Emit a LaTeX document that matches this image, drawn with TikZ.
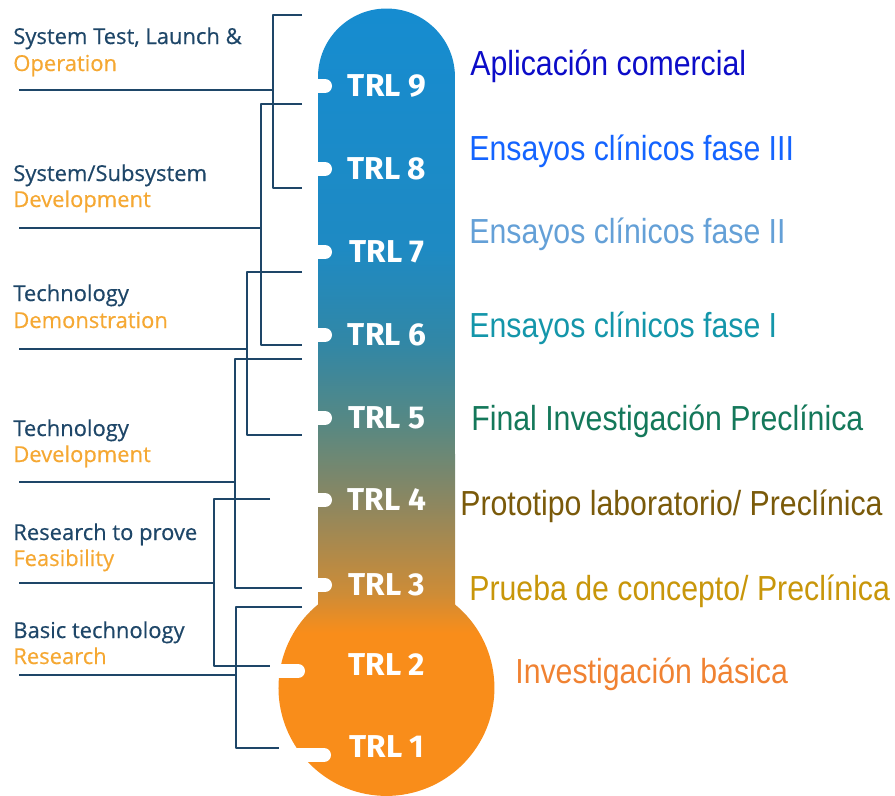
\documentclass[tikz,border=0pt]{standalone}
\usepackage{fontspec}
\setmainfont{Liberation Sans}
\newfontfamily\stagefont[FakeBold=0.5]{Open Sans}
\newfontfamily\trlfont{Fira Sans}
\newfontfamily\narrowfont[FakeStretch=0.87]{Liberation Sans}
\definecolor{navy}{RGB}{30,70,104}
\definecolor{amber}{RGB}{245,168,51}
\definecolor{stemblue}{RGB}{22,140,208}
\definecolor{c7}{RGB}{30,138,195}
\definecolor{c6}{RGB}{50,135,165}
\definecolor{c5}{RGB}{88,136,130}
\definecolor{c4}{RGB}{142,135,95}
\definecolor{c3}{RGB}{205,140,55}
\definecolor{bulb}{RGB}{249,141,26}
\definecolor{trlnine}{RGB}{12,12,200}
\definecolor{trleight}{RGB}{20,100,255}
\definecolor{trlseven}{RGB}{100,160,215}
\definecolor{trlsix}{RGB}{20,150,170}
\definecolor{trlfive}{RGB}{20,120,90}
\definecolor{trlfour}{RGB}{122,90,10}
\definecolor{trlthree}{RGB}{200,150,10}
\definecolor{trltwo}{RGB}{240,130,50}
\pgfdeclareverticalshading{thermo}{100bp}{color(0bp)=(bulb); color(36bp)=(bulb); color(38.5bp)=(c3); color(44bp)=(c4); color(49bp)=(c5); color(54bp)=(c6); color(60bp)=(c7); color(75bp)=(stemblue); color(100bp)=(stemblue)}
\tikzset{
  trl/.style={text=white, inner sep=0pt, font=\trlfont\bfseries\fontsize{18}{20}\selectfont},
  stage/.style={anchor=base west, inner sep=0pt, text=navy, font=\stagefont\fontsize{12.5}{14}\selectfont},
  phase/.style={stage, text=amber},
  trial/.style={anchor=base west, inner sep=0pt, font=\narrowfont\fontsize{19.8}{22}\selectfont},
  bracket/.style={draw=navy, line width=1.1pt},
  notch/.style={white, line width=0.28cm, line cap=round}
}
\begin{document}
\begin{tikzpicture}[x=0.02cm, y=-0.02cm, line join=round]
  \useasboundingbox (0,0) rectangle (895,795);
  \shade[shading=thermo] (318,604.5) -- (318,77) arc[start angle=180, end angle=0, radius=1.37cm] -- (455,604.5) arc[start angle=50.6, end angle=-230.6, radius=2.16cm] -- cycle;
  \draw[notch] (312,86) -- (325,86);
  \draw[notch] (312,169) -- (325,169);
  \draw[notch] (312,252) -- (325,252);
  \draw[notch] (312,335) -- (325,335);
  \draw[notch] (312,418) -- (325,418);
  \draw[notch] (312,500) -- (325,500);
  \draw[notch] (312,585) -- (325,585);
  \draw[notch] (278,671) -- (298,671);
  \draw[notch] (296,755) -- (324,755);
  \node[trl] (t9) at (387,86) {TRL 9};
  \node[trl] (t8) at (387,169) {TRL 8};
  \node[trl] (t7) at (387,252) {TRL 7};
  \node[trl] (t6) at (387,335) {TRL 6};
  \node[trl] (t5) at (387,418) {TRL 5};
  \node[trl] (t4) at (387,500) {TRL 4};
  \node[trl] (t3) at (387,585) {TRL 3};
  \node[trl] (t2) at (387,665) {TRL 2};
  \node[trl] (t1) at (387,747) {TRL 1};
  \draw[bracket] (302,15) -- (273,15) -- (273,188) -- (302,188);
  \draw[bracket] (19,90) -- (273,90);
  \draw[bracket] (302,104) -- (261,104) -- (261,345) -- (302,345);
  \draw[bracket] (19,228) -- (261,228);
  \draw[bracket] (302,272) -- (247,272) -- (247,435) -- (302,435);
  \draw[bracket] (19,349) -- (247,349);
  \draw[bracket] (302,359) -- (235,359) -- (235,588) -- (302,588);
  \draw[bracket] (19,482) -- (235,482);
  \draw[bracket] (270,499) -- (214,499) -- (214,666) -- (270,666);
  \draw[bracket] (19,583) -- (214,583);
  \draw[bracket] (302,607) -- (236,607) -- (236,748) -- (279,748);
  \draw[bracket] (19,675) -- (236,675);
  \node[stage] (s9) at (13,44) {System Test, Launch \&};
  \node[phase] (p9) at (13,71) {Operation};
  \node[stage] (s8) at (13,181) {System/Subsystem};
  \node[phase] (p8) at (13,207) {Development};
  \node[stage] (s7) at (13,301) {Technology};
  \node[phase] (p7) at (13,328) {Demonstration};
  \node[stage] (s6) at (13,436) {Technology};
  \node[phase] (p6) at (13,462) {Development};
  \node[stage] (s5) at (13,540) {Research to prove};
  \node[phase] (p5) at (13,566) {Feasibility};
  \node[stage] (s4) at (13,638) {Basic technology};
  \node[phase] (p4) at (13,664) {Research};
  \node[trial, text=trlnine] (a9) at (470,75) {Aplicación comercial};
  \node[trial, text=trleight] (a8) at (469,160) {Ensayos clínicos fase III};
  \node[trial, text=trlseven] (a7) at (469,243) {Ensayos clínicos fase II};
  \node[trial, text=trlsix] (a6) at (469,337) {Ensayos clínicos fase I};
  \node[trial, text=trlfive] (a5) at (471,430) {Final Investigación Preclínica};
  \node[trial, text=trlfour] (a4) at (460,515) {Prototipo laboratorio/ Preclínica};
  \node[trial, text=trlthree] (a3) at (469,600) {Prueba de concepto/ Preclínica};
  \node[trial, text=trltwo] (a2) at (515,683) {Investigación básica};
\end{tikzpicture}
\end{document}
